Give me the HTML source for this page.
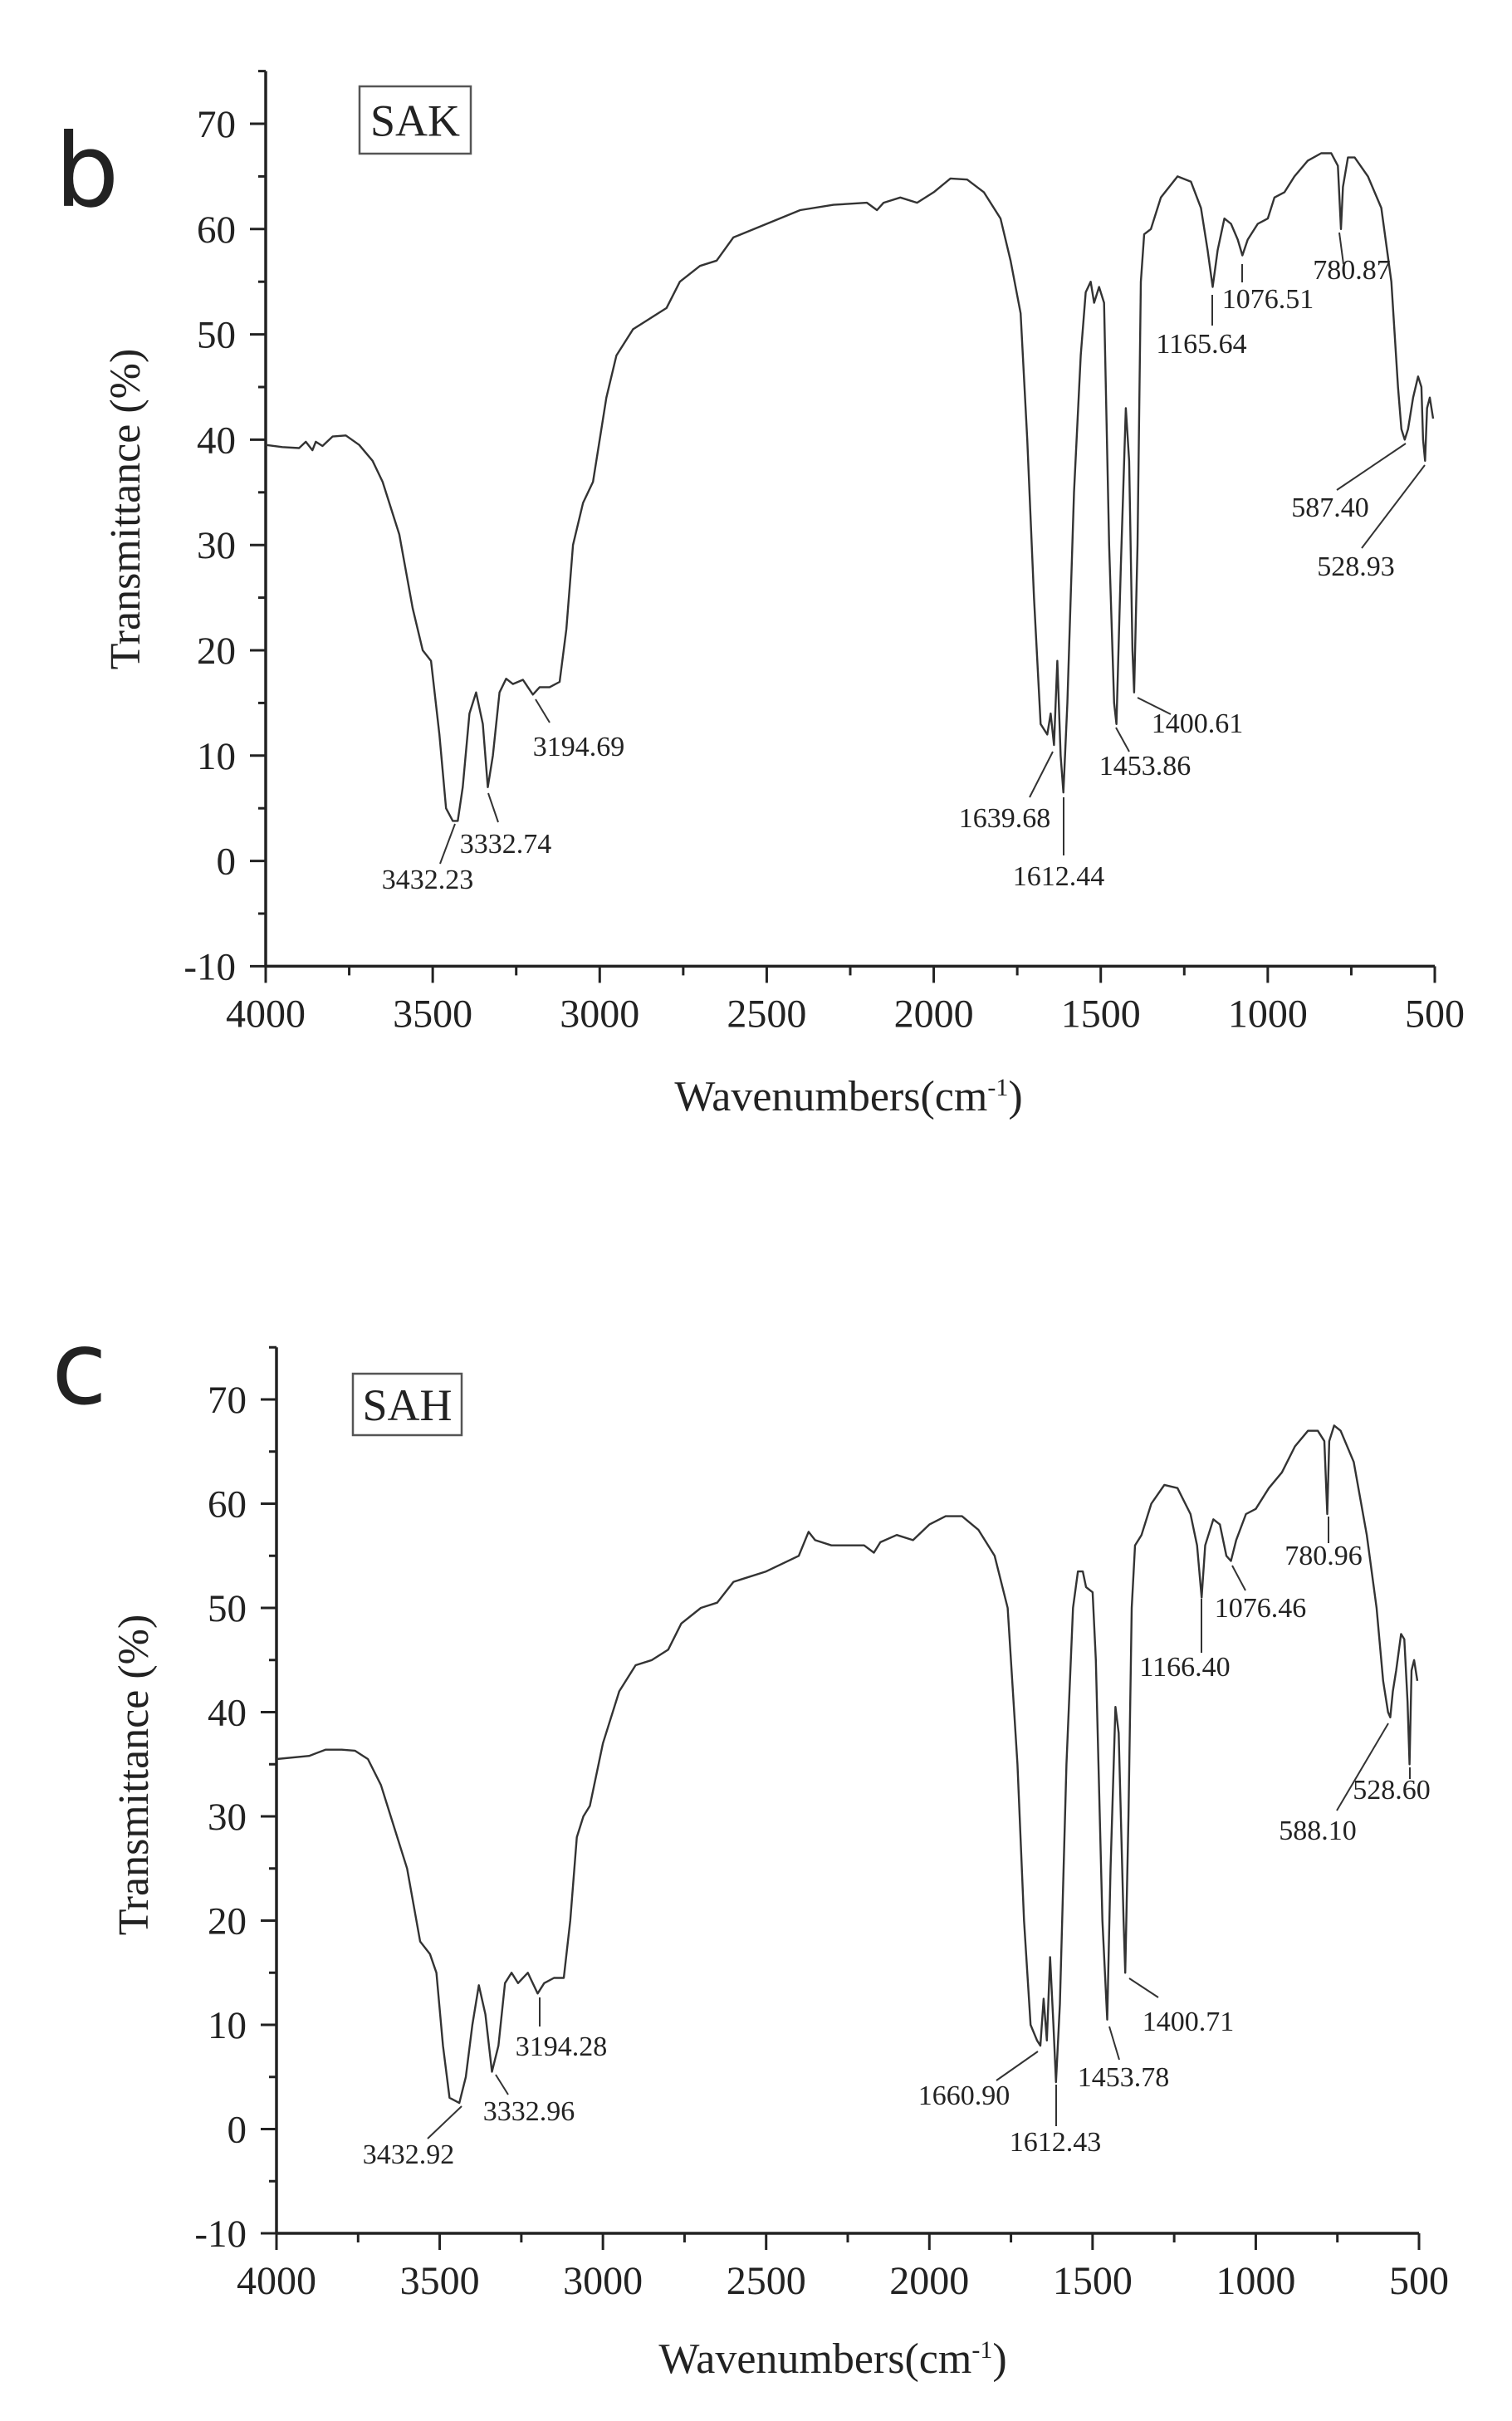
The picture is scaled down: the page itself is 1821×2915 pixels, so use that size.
<!DOCTYPE html>
<html><head><meta charset="utf-8"><style>
html,body{margin:0;padding:0;background:#fff;}
svg{display:block;}
text{font-family:"Liberation Serif",serif;fill:#222;}
</style></head><body>
<svg id="s" width="1821" height="2915" xmlns="http://www.w3.org/2000/svg"></svg>
<script>
var S=document.getElementById('s');var out='';
function plot(P){
 var px=function(w){return P.x0+(4000-w)*(P.x1-P.x0)/3500;};
 var py=function(t){return P.y70+(70-t)*P.k/10;};
 var ax=P.x0, ay=py(-10);
 out+='<line x1="'+ax+'" y1="'+py(75)+'" x2="'+ax+'" y2="'+(ay+1.5)+'" stroke="#222" stroke-width="3.5"/>';
 out+='<line x1="'+(ax-1.5)+'" y1="'+ay+'" x2="'+P.x1+'" y2="'+ay+'" stroke="#222" stroke-width="3.5"/>';
 for(var t=-10;t<=75;t+=5){var y=py(t);var L=(t%10==0)?19:9;
  out+='<line x1="'+(ax-L)+'" y1="'+y+'" x2="'+ax+'" y2="'+y+'" stroke="#222" stroke-width="3"/>';
  if(t%10==0&&t<75) out+='<text x="'+(ax-36)+'" y="'+(y+16)+'" font-size="47" text-anchor="end">'+t+'</text>';}
 for(var w=4000;w>=500;w-=250){var x=px(w);var L=(w%500==0)?20:11;
  out+='<line x1="'+x+'" y1="'+ay+'" x2="'+x+'" y2="'+(ay+L)+'" stroke="#222" stroke-width="3"/>';
  if(w%500==0) out+='<text x="'+x+'" y="'+(ay+73)+'" font-size="48" text-anchor="middle">'+w+'</text>';}
 var d='';for(var i=0;i<P.d.length;i+=2){d+=(i?'L':'M')+px(P.d[i]).toFixed(1)+','+py(P.d[i+1]).toFixed(1);}
 out+='<path d="'+d+'" fill="none" stroke="#333" stroke-width="2.4" stroke-linejoin="round"/>';
 P.ann.forEach(function(a){out+='<text x="'+a[1]+'" y="'+(a[2]+11)+'" font-size="34" text-anchor="middle">'+a[0]+'</text>';
  out+='<line x1="'+a[3]+'" y1="'+a[4]+'" x2="'+a[5]+'" y2="'+a[6]+'" stroke="#333" stroke-width="2"/>';});
 out+='<rect x="'+P.box[0]+'" y="'+P.box[1]+'" width="'+P.box[2]+'" height="'+P.box[3]+'" fill="none" stroke="#555" stroke-width="2.5"/>';
 out+='<text x="'+(P.box[0]+P.box[2]/2)+'" y="'+(P.box[1]+P.box[3]/2+19)+'" font-size="54" text-anchor="middle">'+P.name+'</text>';
 out+='<text transform="translate('+P.yt[0]+','+P.yt[1]+') rotate(-90)" font-size="52" text-anchor="middle" y="18">Transmittance (%)</text>';
 out+='<text x="'+P.xt[0]+'" y="'+(P.xt[1]+18)+'" font-size="52" text-anchor="middle">Wavenumbers(cm<tspan dy="-18" font-size="30">-1</tspan><tspan dy="18">)</tspan></text>';
 out+='<text x="'+P.lab[0]+'" y="'+P.lab[1]+'" font-size="122" style="font-family:\'DejaVu Sans\',\'Liberation Sans\',sans-serif" fill="#000">'+P.letter+'</text>';
}
var b={x0:320,x1:1728,y70:149,k:126.8,name:'SAK',letter:'b',box:[433,104,134,81],yt:[150,613],xt:[1022,1319],lab:[66,248],
d:[4000,39.5,3950,39.3,3900,39.2,3880,39.8,3860,39.0,3850,39.8,3830,39.4,3800,40.3,3760,40.4,3720,39.5,3680,38,3650,36,3600,31,3560,24,3530,20,3505,19,3480,12,3460,5,3440,3.8,3425,3.8,3410,7,3390,14,3370,16,3350,13,3335,7,3320,10,3300,16,3280,17.3,3260,16.8,3230,17.2,3200,15.8,3180,16.5,3150,16.5,3120,17,3100,22,3080,30,3050,34,3020,36,2980,44,2950,48,2900,50.5,2850,51.5,2800,52.5,2760,55,2700,56.5,2650,57,2600,59.2,2500,60.5,2400,61.8,2300,62.3,2200,62.5,2170,61.8,2150,62.5,2100,63,2050,62.5,2000,63.5,1950,64.8,1900,64.7,1850,63.5,1800,61,1770,57,1740,52,1720,40,1700,25,1680,13,1660,12,1650,14,1640,11,1630,19,1620,10,1612,6.5,1600,15,1580,35,1560,48,1545,54,1530,55,1520,53,1505,54.5,1490,53,1475,30,1460,15,1453,13,1440,28,1425,43,1415,38,1405,20,1400,16,1390,30,1380,55,1370,59.5,1350,60,1320,63,1270,65,1230,64.5,1200,62,1180,58,1165,54.5,1150,58,1130,61,1110,60.5,1090,59,1076,57.5,1060,59,1030,60.5,1000,61,980,63,950,63.5,920,65,880,66.5,840,67.2,810,67.2,790,66,781,60,775,64,760,66.8,740,66.8,700,65,660,62,630,55,610,45,600,41,590,40,580,41,565,44,550,46,540,45,535,40,529,38,523,43,515,44,505,42],
ann:[['3432.23',515,1059,548,992,530,1040],['3332.74',609,1016,588,955,600,990],['3194.69',697,899,645,842,662,870],['1639.68',1210,985,1268,905,1240,960],['1612.44',1275,1055,1281,960,1281,1030],['1453.86',1379,922,1344,876,1360,905],['1400.61',1442,871,1370,840,1410,860],['1165.64',1447,414,1460,355,1460,392],['1076.51',1527,360,1496,318,1496,340],['780.87',1628,325,1613,280,1618,318],['587.40',1602,611,1693,534,1610,590],['528.93',1633,682,1716,560,1640,660]]};
var c={x0:333,x1:1709,y70:1685,k:125.5,name:'SAH',letter:'c',box:[425,1654,131,74],yt:[160,2137],xt:[1003,2839],lab:[62,1690],
d:[4000,35.5,3900,35.8,3850,36.4,3800,36.4,3760,36.3,3720,35.5,3680,33,3650,30,3600,25,3560,18,3530,16.8,3510,15,3490,8,3470,3,3440,2.5,3420,5,3400,10,3380,13.8,3360,11,3340,5.5,3320,8,3300,14,3280,15,3260,14,3230,15,3200,13,3180,14,3150,14.5,3120,14.5,3100,20,3080,28,3060,30,3040,31,3000,37,2950,42,2900,44.5,2850,45,2800,46,2760,48.5,2700,50,2650,50.5,2600,52.5,2500,53.5,2400,55,2370,57.3,2350,56.5,2300,56,2200,56,2170,55.3,2150,56.3,2100,57,2050,56.5,2000,58,1950,58.8,1900,58.8,1850,57.5,1800,55,1760,50,1730,35,1710,20,1690,10,1670,8.5,1660,8,1650,12.5,1640,8.5,1630,16.5,1620,10,1612,4.5,1600,12,1580,35,1560,50,1545,53.5,1530,53.5,1520,52,1500,51.5,1490,45,1470,20,1455,10.5,1445,25,1430,40.5,1420,38,1405,20,1400,15,1390,30,1380,50,1370,56,1350,57,1320,60,1280,61.8,1240,61.5,1200,59,1180,56,1166,51,1155,56,1130,58.5,1110,58,1090,55,1076,54.5,1060,56.5,1030,59,1000,59.5,960,61.5,920,63,880,65.5,840,67,810,67,790,66,781,59,775,66,760,67.5,740,67,700,64,660,57,630,50,610,43,595,40,588,39.5,580,42,570,44,555,47.5,545,47,535,41,529,35,523,44,515,45,505,43],
ann:[['3432.92',492,2594,556,2536,515,2575],['3332.96',637,2542,597,2498,612,2522],['3194.28',676,2464,650,2405,650,2440],['1660.90',1161,2523,1250,2470,1200,2505],['1612.43',1271,2579,1272,2510,1272,2560],['1453.78',1353,2501,1336,2440,1348,2480],['1400.71',1431,2434,1360,2382,1395,2405],['1166.40',1427,2007,1447,1925,1447,1990],['1076.46',1518,1936,1484,1885,1500,1915],['780.96',1594,1873,1600,1826,1600,1858],['588.10',1587,2204,1672,2075,1610,2180],['528.60',1676,2155,1698,2128,1698,2142]]};
plot(b);plot(c);
S.innerHTML=out;
</script>
</body></html>
